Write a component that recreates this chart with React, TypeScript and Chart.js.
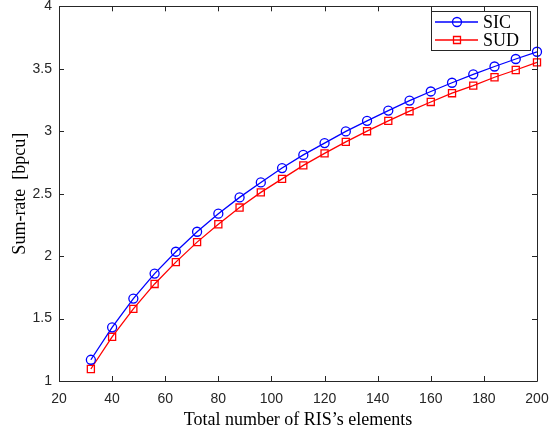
import React, { useEffect, useRef } from "react";
import { Chart, registerables } from "chart.js";

Chart.register(...registerables);

const elements = [32, 40, 48, 56, 64, 72, 80, 88, 96, 104, 112, 120, 128, 136, 144, 152, 160, 168, 176, 184, 192, 200];
const sicRate = [1.17, 1.43, 1.66, 1.86, 2.035, 2.195, 2.34, 2.47, 2.59, 2.705, 2.81, 2.905, 2.998, 3.083, 3.165, 3.245, 3.318, 3.388, 3.455, 3.518, 3.578, 3.636];
const sudRate = [1.096, 1.354, 1.577, 1.777, 1.952, 2.112, 2.255, 2.389, 2.51, 2.618, 2.726, 2.822, 2.915, 3.0, 3.083, 3.16, 3.234, 3.304, 3.365, 3.432, 3.49, 3.551];
const seriesNames = ["SIC", "SUD"];
const xTitle = "Total number of RIS\u2019s elements";
const yTitle = "Sum-rate  [bpcu]";

const AXIS_COLOR = "#262626";

const boxPlugin = {
  id: "matlabBox",
  afterDraw(chart: any) {
    const { ctx, chartArea } = chart;
    const { left, right, top, bottom } = chartArea;
    const xs = chart.scales.x;
    const ys = chart.scales.y;
    const tl = 5;
    ctx.save();
    ctx.strokeStyle = AXIS_COLOR;
    ctx.lineWidth = 1;
    ctx.beginPath();
    ctx.rect(Math.round(left) + 0.5, Math.round(top) + 0.5, Math.round(right - left), Math.round(bottom - top));
    ctx.stroke();
    ctx.beginPath();
    xs.ticks.forEach((t: any) => {
      const px = Math.round(xs.getPixelForValue(t.value)) + 0.5;
      ctx.moveTo(px, bottom);
      ctx.lineTo(px, bottom - tl);
      ctx.moveTo(px, top);
      ctx.lineTo(px, top + tl);
    });
    ys.ticks.forEach((t: any) => {
      const py = Math.round(ys.getPixelForValue(t.value)) + 0.5;
      ctx.moveTo(left, py);
      ctx.lineTo(left + tl, py);
      ctx.moveTo(right, py);
      ctx.lineTo(right - tl, py);
    });
    ctx.stroke();

    // legend
    const lx = 431, ly = 11, lw = 99, lh = 39;
    ctx.fillStyle = "#ffffff";
    ctx.fillRect(lx, ly, lw, lh);
    ctx.strokeStyle = AXIS_COLOR;
    ctx.strokeRect(lx + 0.5, ly + 0.5, lw, lh);
    const rows = [
      { name: seriesNames[0], color: "#0000ff", y: 22, shape: "circle" },
      { name: seriesNames[1], color: "#ff0000", y: 40, shape: "rect" },
    ];
    rows.forEach((r) => {
      ctx.strokeStyle = r.color;
      ctx.lineWidth = 1.3;
      ctx.beginPath();
      ctx.moveTo(435, r.y);
      ctx.lineTo(478, r.y);
      ctx.stroke();
      ctx.beginPath();
      if (r.shape === "circle") {
        ctx.arc(457, r.y, 4.5, 0, Math.PI * 2);
      } else {
        ctx.rect(457 - 3.5, r.y - 3.5, 7, 7);
      }
      ctx.stroke();
      ctx.fillStyle = "#000000";
      ctx.font = "18px 'Liberation Serif'";
      ctx.textBaseline = "middle";
      ctx.textAlign = "left";
      ctx.fillText(r.name, 483, r.y + 1);
    });
    ctx.restore();
  },
};

export default function App() {
  const ref = useRef<HTMLCanvasElement | null>(null);
  useEffect(() => {
    if (!ref.current) return;
    const chart = new Chart(ref.current, {
      type: "line",
      data: {
        labels: elements,
        datasets: [
          {
            label: seriesNames[0],
            data: elements.map((x, i) => ({ x, y: sicRate[i] })),
            borderColor: "#0000ff",
            backgroundColor: "rgba(0,0,0,0)",
            borderWidth: 1.3,
            pointStyle: "circle",
            pointRadius: 4.5,
            pointBorderWidth: 1.3,
            pointBorderColor: "#0000ff",
            pointBackgroundColor: "rgba(0,0,0,0)",
            tension: 0,
            clip: false as any,
          },
          {
            label: seriesNames[1],
            data: elements.map((x, i) => ({ x, y: sudRate[i] })),
            borderColor: "#ff0000",
            backgroundColor: "rgba(0,0,0,0)",
            borderWidth: 1.3,
            pointStyle: "rect",
            pointRadius: 5,
            pointBorderWidth: 1.3,
            pointBorderColor: "#ff0000",
            pointBackgroundColor: "rgba(0,0,0,0)",
            tension: 0,
            clip: false as any,
          },
        ],
      },
      options: {
        animation: false,
        responsive: false,
        maintainAspectRatio: false,
        layout: { padding: { top: 5, right: 13, left: 0, bottom: 0 } },
        plugins: { legend: { display: false }, tooltip: { enabled: false } },
        scales: {
          x: {
            type: "linear",
            min: 20,
            max: 200,
            ticks: {
              stepSize: 20,
              color: AXIS_COLOR,
              font: { family: "'Liberation Sans'", size: 14 },
              padding: 10,
              maxRotation: 0,
            },
            grid: { display: false, drawTicks: false },
            border: { display: false },
            title: {
              display: true,
              text: xTitle,
              color: "#000000",
              font: { family: "'Liberation Serif'", size: 18 },
              padding: { top: 0, bottom: 3 },
            },
            afterFit: (s: any) => {
              s.height = 53;
              s.paddingLeft = 0;
              s.paddingRight = 0;
            },
          },
          y: {
            type: "linear",
            min: 1,
            max: 4,
            ticks: {
              stepSize: 0.5,
              color: AXIS_COLOR,
              font: { family: "'Liberation Sans'", size: 14 },
              padding: 7,
              callback: (v: any) => String(Math.round(Number(v) * 10) / 10),
            },
            grid: { display: false, drawTicks: false },
            border: { display: false },
            title: {
              display: true,
              text: yTitle,
              color: "#000000",
              font: { family: "'Liberation Serif'", size: 18 },
              padding: { top: 9, bottom: 0 },
            },
            afterFit: (s: any) => {
              s.width = 59;
              s.paddingTop = 0;
              s.paddingBottom = 0;
            },
          },
        },
      },
      plugins: [boxPlugin],
    });
    return () => chart.destroy();
  }, []);
  return (
    <div style={{ position: "absolute", left: 0, top: 0, width: 550, height: 434, background: "#fff" }}>
      <canvas ref={ref} width={550} height={434} style={{ width: 550, height: 434 }} />
    </div>
  );
}
